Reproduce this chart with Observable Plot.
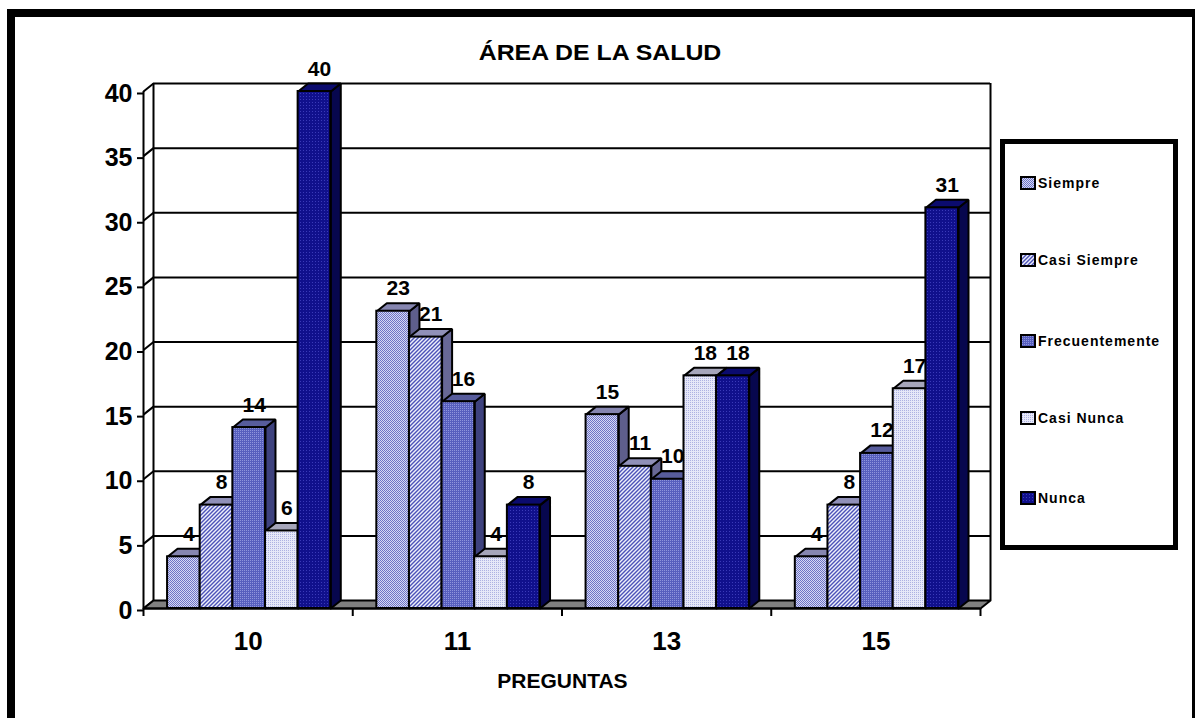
<!DOCTYPE html>
<html><head><meta charset="utf-8">
<script src="https://cdn.jsdelivr.net/npm/d3@7"></script>
<script src="https://cdn.jsdelivr.net/npm/@observablehq/plot@0.6"></script>
<style>
html,body{margin:0;padding:0;background:#fff;overflow:hidden;width:1195px;height:718px;}
#root{position:relative;width:1195px;height:718px;font-family:"Liberation Sans",Arial,sans-serif;color:#000;}
#root svg.chart{position:absolute;left:0;top:0;}
#frame{position:absolute;left:7px;top:9px;right:0;bottom:-20px;border-left:8px solid #000;border-top:8px solid #000;border-right:3px solid #000;pointer-events:none;}
#title{position:absolute;left:0;width:1200px;top:42px;text-align:center;font-weight:bold;font-size:22px;line-height:1;transform:scaleX(1.13);transform-origin:600px 0;}
#xtitle{position:absolute;left:0;width:1125px;top:670px;text-align:center;font-weight:bold;font-size:21px;line-height:1;}
#legend{position:absolute;left:1000px;top:139px;width:168px;height:401px;border:5px solid #000;background:#fff;}
.item{position:absolute;left:1020px;height:16px;display:flex;align-items:center;font-weight:bold;font-size:14px;letter-spacing:1px;white-space:nowrap;}
.item svg{margin-right:2px;display:block;}
</style></head><body><div id="root"></div>
<script>
// ---- data ----
const categories = ["10", "11", "13", "15"];
const seriesNames = ["Siempre", "Casi Siempre", "Frecuentemente", "Casi Nunca", "Nunca"];
const siempre        = [4, 23, 15, 4];
const casiSiempre    = [8, 21, 11, 8];
const frecuentemente = [14, 16, 10, 12];
const casiNunca      = [6, 4, 18, 17];
const nunca          = [40, 8, 18, 31];
const yTicks = [0, 5, 10, 15, 20, 25, 30, 35, 40];
const titleText = "ÁREA DE LA SALUD";
const xTitleText = "PREGUNTAS";

// ---- styles ----
const patternIds = ["pSiempre", "pCasiSiempre", "pFrec", "pCasiNunca", "pNunca"];
const frontFill = patternIds.map(id => `url(#${id})`);
const topFill  = ["#8686b0", "#9090b8", "#575c9c", "#a6a6ba", "#0b0b6e"];
const sideFill = ["#5e5e8c", "#686896", "#3e427e", "#7e7e9c", "#07074e"];

// ---- layout ----
const W = 1195, H = 718, mL = 143, mR = 215, mT = 91, mB = 110;
const yMax = 40, nCat = categories.length;
const pxX = (W - mL - mR) / nCat, pxY = (H - mT - mB) / yMax;
const DX = 10 / pxX, DY = 8 / pxY;
const PAD = 0.115, BW = 0.156;

const seriesValues = [siempre, casiSiempre, frecuentemente, casiNunca, nunca];
const rows = categories.flatMap((c, gi) => seriesValues.map((vals, si) => {
  const x1 = gi + PAD + si * BW;
  return {gi, si, cat: c, series: seriesNames[si], value: vals[gi], x1, x2: x1 + BW};
}));
const poly = (id, fill, pts) => pts.map(([x, y]) => ({id, fill, x, y}));
const sides = rows.flatMap((r, i) => poly("s" + i, sideFill[r.si],
  [[r.x2, 0], [r.x2 + DX, DY], [r.x2 + DX, r.value + DY], [r.x2, r.value], [r.x2, 0]]));
const tops = rows.flatMap((r, i) => poly("t" + i, topFill[r.si],
  [[r.x1, r.value], [r.x2, r.value], [r.x2 + DX, r.value + DY], [r.x1 + DX, r.value + DY], [r.x1, r.value]]));
const floor = poly("floor", "#808080", [[0, 0], [nCat, 0], [nCat + DX, DY], [DX, DY], [0, 0]]);

const FONT = "Liberation Sans, Arial, sans-serif";
const svg = Plot.plot({
  width: W, height: H,
  marginLeft: mL, marginRight: mR, marginTop: mT, marginBottom: mB,
  style: {background: "transparent", fontFamily: FONT, overflow: "visible"},
  x: {type: "linear", domain: [0, nCat], axis: null},
  y: {type: "linear", domain: [0, yMax], axis: null},
  color: {type: "identity"},
  marks: [
    Plot.ruleY(yTicks.filter(v => v > 0), {y: v => v + DY, x1: () => DX, x2: () => nCat + DX, stroke: "black", strokeWidth: 2}),
    Plot.ruleX([DX, nCat + DX], {x: d => d, y1: () => DY, y2: () => yMax + DY, stroke: "black", strokeWidth: 2}),
    Plot.link(yTicks, {x1: () => 0, y1: v => v, x2: () => DX, y2: v => v + DY, stroke: "black", strokeWidth: 2}),
    Plot.line(floor, {x: "x", y: "y", z: "id", fill: "fill", stroke: "black", strokeWidth: 2, curve: "linear"}),
    Plot.ruleX([0], {y1: () => 0, y2: () => yMax, stroke: "black", strokeWidth: 2}),
    Plot.ruleY([0], {x1: () => 0, x2: () => nCat, stroke: "black", strokeWidth: 2}),
    Plot.ruleX(d3.range(nCat + 1), {x: d => d, y1: () => 0, y2: () => -8 / pxY, stroke: "black", strokeWidth: 2}),
    Plot.line(sides, {x: "x", y: "y", z: "id", fill: "fill", stroke: "black", strokeWidth: 2, strokeLinejoin: "miter", curve: "linear"}),
    Plot.line(tops, {x: "x", y: "y", z: "id", fill: "fill", stroke: "black", strokeWidth: 2, strokeLinejoin: "miter", curve: "linear"}),
    Plot.rect(rows, {x1: "x1", x2: "x2", y1: () => 0, y2: "value", fill: r => frontFill[r.si], stroke: "black", strokeWidth: 2}),
    Plot.text(rows, {x: r => (r.x1 + r.x2) / 2 + DX / 2, y: r => r.value + DY, text: r => String(r.value),
      dy: -8, lineAnchor: "bottom", fontSize: 21, fontWeight: "bold", fill: "black"}),
    Plot.axisY({ticks: yTicks, tickSize: 6, tickPadding: 5, fontSize: 25, fontWeight: "bold", stroke: "black", strokeWidth: 2, fill: "black", dy: 2, label: null, tickFormat: d => String(d)}),
    Plot.text(categories, {x: (d, i) => i + 0.5, y: () => 0, text: d => d, dy: 33, lineAnchor: "middle", fontSize: 26, fontWeight: "bold", fill: "black"})
  ]
});
svg.classList.add("chart");

const defs = document.createElementNS("http://www.w3.org/2000/svg", "defs");
defs.innerHTML = `
<pattern id="pSiempre" width="2" height="2" patternUnits="userSpaceOnUse"><rect width="2" height="2" fill="#d6d9f4"/><rect width="1" height="1" fill="#6e74c6"/><rect x="1" y="1" width="1" height="1" fill="#6e74c6"/></pattern>
<pattern id="pCasiSiempre" width="4" height="4" patternUnits="userSpaceOnUse"><rect width="4" height="4" fill="#eef0fb"/><path d="M-1,1 L1,-1 M0,4 L4,0 M3,5 L5,3" stroke="#4c52b8" stroke-width="1.4"/></pattern>
<pattern id="pFrec" width="2" height="2" patternUnits="userSpaceOnUse"><rect width="2" height="2" fill="#575fbe"/><rect width="1" height="1" fill="#8f95dc"/></pattern>
<pattern id="pCasiNunca" width="2" height="2" patternUnits="userSpaceOnUse"><rect width="2" height="2" fill="#e6e8f8"/><rect width="1" height="1" fill="#aeb2e2"/></pattern>
<pattern id="pNunca" width="3" height="3" patternUnits="userSpaceOnUse"><rect width="3" height="3" fill="#10108c"/><rect width="1" height="1" fill="#3a3ab8"/></pattern>`;
svg.insertBefore(defs, svg.firstChild);

const root = document.getElementById("root");
root.appendChild(svg);

const frame = document.createElement("div"); frame.id = "frame"; root.appendChild(frame);
const t = document.createElement("div"); t.id = "title"; t.textContent = titleText; root.appendChild(t);
const xt = document.createElement("div"); xt.id = "xtitle"; xt.textContent = xTitleText; root.appendChild(xt);
const lg = document.createElement("div"); lg.id = "legend"; root.appendChild(lg);
const legendY = [183, 260, 341, 418, 498];
seriesNames.forEach((name, i) => {
  const it = document.createElement("div");
  it.className = "item";
  it.style.top = (legendY[i] - 8) + "px";
  it.innerHTML = `<svg width="16" height="14"><rect x="1" y="1" width="14" height="12" fill="${frontFill[i]}" stroke="black" stroke-width="2"/></svg><span>${name}</span>`;
  root.appendChild(it);
});
</script>
</body></html>
